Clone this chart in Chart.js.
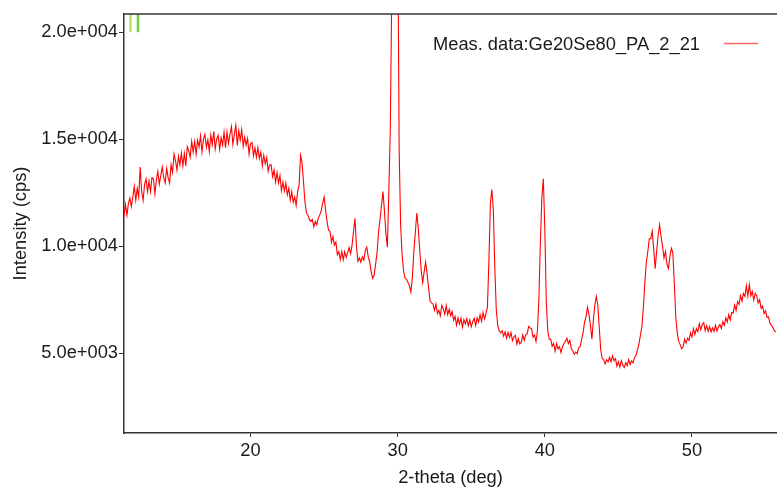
<!DOCTYPE html>
<html>
<head>
<meta charset="utf-8">
<script src="https://cdn.jsdelivr.net/npm/chart.js@4.4.1/dist/chart.umd.min.js"></script>
<style>
  html, body { margin: 0; padding: 0; background: #ffffff; }
  #wrap { width: 777px; height: 489px; }
</style>
</head>
<body>
<div id="wrap"><canvas id="c" width="777" height="489"></canvas></div>
<script>
// ---- data ----
const seriesName = 'Meas. data:Ge20Se80_PA_2_21';
const startAngle = 11.4;   // 2-theta of first point (deg)
const stepAngle = 0.1;     // scan step (deg)
const counts = [
  11400, 11950, 11450, 12000, 12250, 11850, 12300, 12800, 12150, 12700,
  12300, 13700, 12550, 12150, 12900, 13150, 12550, 13050, 12550, 13200,
  13150, 12450, 13100, 13500, 12900, 13300, 13700, 13200, 12950, 13630,
  13200, 12950, 13800, 13450, 14300, 14000, 13550, 14200, 13800, 14350,
  13750, 14330, 13750, 14650, 14450, 14150, 14900, 14400, 14900, 14300,
  14950, 14630, 15160, 14400, 15000, 15220, 14620, 14970, 14420, 15200,
  14750, 15370, 14550, 15020, 15180, 14520, 15070, 14720, 15330, 14600,
  15330, 14800, 15220, 15590, 14750, 15210, 15660, 14710, 15400, 14950,
  15450, 14670, 15100, 14720, 15040, 14300, 14800, 14850, 14220, 14600,
  14150, 14600, 14100, 14400, 13750, 14250, 13850, 14150, 13500, 13800,
  13800, 13250, 13570, 13000, 13430, 12950, 13300, 12600, 13000, 12580,
  12950, 12400, 12700, 12150, 12550, 12050, 12300, 11900, 12550, 12850,
  14250, 13900, 13000, 12050, 11550, 11450, 11250, 11150, 11250, 10900,
  11150, 11000, 11300, 11450, 11650, 12000, 12300, 11700, 11150, 10750,
  10700, 10200, 10450, 10050, 10200, 9600, 9750, 9370, 9750, 9370,
  9750, 9470, 9700, 9930, 9650, 10050, 10700, 11300, 9950, 9300,
  9450, 9250, 9500, 9350, 9800, 9950, 9500, 9250, 8800, 8500,
  8650, 9150, 9700, 10650, 11250, 11900, 12550, 11650, 10600, 9950,
  12600, 15500, 22000, 40000, 55000, 48000, 26000, 14500, 11000, 9600,
  8850, 8500, 8450, 8300, 8150, 7850, 8550, 9750, 10650, 11550,
  10850, 9800, 8850, 8300, 8800, 9250, 8700, 8050, 7450, 7350,
  7300, 7000, 7300, 6850, 7000, 6740, 7240, 7070, 6820, 7220,
  6800, 7050, 6750, 6950, 6530, 6720, 6310, 6650, 6370, 6640,
  6220, 6570, 6370, 6620, 6280, 6550, 6230, 6470, 6630, 6300,
  6650, 6450, 6800, 6500, 6900, 6600, 6850, 7150, 9300, 12000,
  12650, 11700, 9000, 7050, 6300, 6050, 5950, 6050, 5800, 6000,
  5700, 5970, 5740, 5960, 5580, 5760, 5830, 5420, 5680, 5430,
  5500, 5850, 5600, 5860, 5900, 6250, 6180, 6150, 5750, 5850,
  5550, 6050, 7600, 10200, 12300, 13150, 10800, 7400, 6050, 5650,
  5650, 5330, 5450, 5100, 5450, 5200, 5300, 5030, 5300, 5450,
  5550, 5700, 5450, 5600, 5200, 5100, 4950, 5050, 4980, 5250,
  5300, 5650, 5950, 6450, 6700, 7150, 6800, 6300, 5650, 6550,
  7250, 7650, 7250, 6200, 5150, 4750, 4700, 4500, 4700, 4600,
  4800, 4600, 4880, 4650, 4750, 4400, 4600, 4350, 4650, 4440,
  4330, 4560, 4420, 4700, 4470, 4640, 4550, 4800, 4900, 5150,
  5450, 5850, 6250, 7150, 8300, 9250, 9750, 10350, 10350, 10700,
  9850, 8950, 9750, 10500, 11000, 10450, 10000, 9450, 9750, 9150,
  8950, 9500, 9900, 9700, 8300, 6700, 5950, 5550, 5400, 5200,
  5300, 5650, 5470, 5700, 5600, 5950, 5750, 6150, 5870, 6150,
  6000, 6380, 6090, 6340, 6430, 6050, 6280, 6020, 6240, 5990,
  6190, 6020, 6300, 6030, 6230, 6340, 6150, 6470, 6300, 6650,
  6460, 6800, 6550, 6900, 6880, 7250, 7000, 7410, 7280, 7690,
  7430, 7790, 7650, 8150, 7670, 8210, 7680, 7880, 7480, 7790,
  7690, 7350, 7500, 7100, 7200, 6850, 6980, 6670, 6700, 6410,
  6300, 6200, 6050, 5980
];
// reference-peak markers drawn at the top-left
const markerAngles = [11.84, 12.35];
const markerColors = ['#b8e65a', '#78cc3c'];
const markerLow = 20000;
const markerHigh = 21500;

const xTickValues = [20, 30, 40, 50];
const xTickLabels = ['20', '30', '40', '50'];
const yTickValues = [5000, 10000, 15000, 20000];
const yTickLabels = ['5.0e+003', '1.0e+004', '1.5e+004', '2.0e+004'];

const xMin = 11.4, xMax = 55.78;
const yMin = 1270, yMax = 20850;

// ---- build datasets ----
const mainPoints = counts.map((c, i) => ({ x: +(startAngle + i * stepAngle).toFixed(2), y: c }));
const datasets = [{
  label: seriesName,
  data: mainPoints,
  borderColor: '#ff0000',
  borderWidth: 1.1,
  pointRadius: 0,
  tension: 0,
  order: 2
}];
markerAngles.forEach((a, i) => {
  datasets.push({
    label: 'marker' + i,
    data: [{ x: a, y: markerLow }, { x: a, y: markerHigh }],
    borderColor: markerColors[i],
    borderWidth: 2.5,
    pointRadius: 0,
    order: 1
  });
});

const FONT = "'Liberation Sans', Arial, sans-serif";
const FS = 18.3;

const frame = {
  id: 'frame',
  afterDraw(chart) {
    const { ctx, chartArea } = chart;
    ctx.save();
    ctx.strokeStyle = '#333333';
    ctx.lineWidth = 1.5;
    ctx.beginPath();
    ctx.moveTo(chartArea.left, chartArea.top);
    ctx.lineTo(chartArea.right, chartArea.top);
    ctx.stroke();
    // legend
    ctx.font = FS + 'px ' + FONT;
    ctx.fillStyle = '#1a1a1a';
    ctx.textBaseline = 'alphabetic';
    ctx.textAlign = 'left';
    ctx.fillText(seriesName, 433, 50);
    ctx.strokeStyle = 'rgba(255,0,0,0.6)';
    ctx.lineWidth = 1.5;
    ctx.beginPath();
    ctx.moveTo(724, 43.5);
    ctx.lineTo(758, 43.5);
    ctx.stroke();
    ctx.restore();
  }
};

new Chart(document.getElementById('c'), {
  type: 'line',
  data: { datasets },
  options: {
    responsive: false,
    animation: false,
    devicePixelRatio: 1,
    layout: { padding: { top: 14, right: 0, bottom: 0, left: 0 } },
    plugins: { legend: { display: false }, tooltip: { enabled: false } },
    scales: {
      x: {
        type: 'linear',
        min: xMin, max: xMax,
        afterFit(s) { s.height = 56; },
        afterBuildTicks(s) { s.ticks = xTickValues.map(v => ({ value: v })); },
        ticks: {
          callback: (v) => xTickLabels[xTickValues.indexOf(v)],
          font: { family: FONT, size: FS },
          color: '#1a1a1a',
          padding: 3,
          maxRotation: 0,
          autoSkip: false
        },
        grid: { drawOnChartArea: false, drawTicks: true, tickLength: 4, color: '#333333', lineWidth: 1 },
        border: { display: true, color: '#333333', width: 1.5 },
        title: {
          display: true, text: '2-theta (deg)',
          font: { family: FONT, size: FS }, color: '#1a1a1a',
          padding: { top: 0, bottom: 0 }
        }
      },
      y: {
        type: 'linear',
        min: yMin, max: yMax,
        afterFit(s) { s.width = 124; },
        afterBuildTicks(s) { s.ticks = yTickValues.map(v => ({ value: v })); },
        ticks: {
          callback: (v) => yTickLabels[yTickValues.indexOf(v)],
          font: { family: FONT, size: FS },
          color: '#1a1a1a',
          padding: 1,
          autoSkip: false
        },
        grid: { drawOnChartArea: false, drawTicks: true, tickLength: 5, color: '#333333', lineWidth: 1 },
        border: { display: true, color: '#333333', width: 1.5 },
        title: {
          display: true, text: 'Intensity (cps)',
          font: { family: FONT, size: FS }, color: '#1a1a1a',
          padding: { top: 10, bottom: 0 }
        }
      }
    }
  },
  plugins: [frame]
});
</script>
</body>
</html>
